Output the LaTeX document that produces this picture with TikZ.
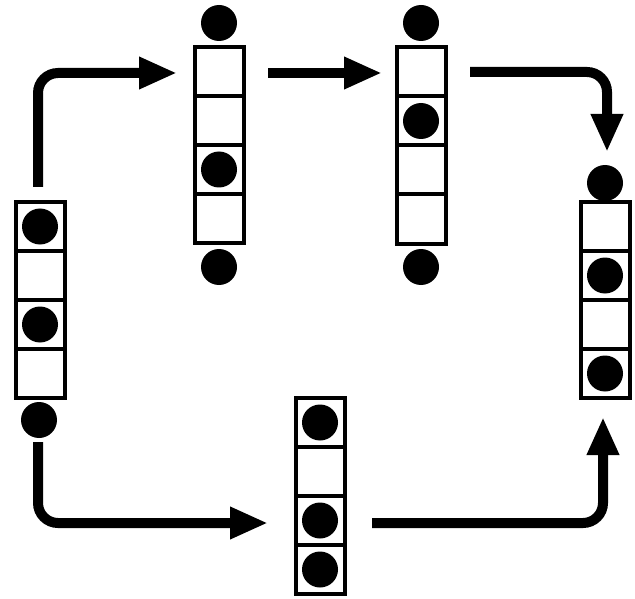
\documentclass[tikz,border=0pt]{standalone}
\usetikzlibrary{arrows.meta}
\begin{document}
\begin{tikzpicture}[x=1pt,y=1pt,
  cell/.style={draw=black,line width=4pt,fill=white,minimum width=49pt,minimum height=49pt,inner sep=0pt},
  ball/.style={circle,fill=black,minimum size=36pt,inner sep=0pt},
  flow/.style={line width=10pt,rounded corners=20pt,-{Triangle[length=38pt,width=30pt]}}]
\useasboundingbox (0,0) rectangle (635,-599);
% column 1 (left)
\foreach \i in {0,...,3}{\node[cell] (a\i) at (40,-226.5-49*\i) {};}
\node[ball] (a0b) at (a0) {};
\node[ball] (a2b) at (a2) {};
\node[ball] (aout) at (39,-420) {};
% column 2
\foreach \i in {0,...,3}{\node[cell] (b\i) at (219,-71.5-49*\i) {};}
\node[ball] (bin) at (219,-23) {};
\node[ball] (b2b) at (b2) {};
\node[ball] (bout) at (219,-267) {};
% column 3
\foreach \i in {0,...,3}{\node[cell] (c\i) at (421,-72-49*\i) {};}
\node[ball] (cin) at (421,-23) {};
\node[ball] (c1b) at (c1) {};
\node[ball] (cout) at (421,-267) {};
% column 4 (right)
\foreach \i in {0,...,3}{\node[cell] (d\i) at (605,-226.5-49*\i) {};}
\node[ball] (din) at (605,-183) {};
\node[ball] (d1b) at (d1) {};
\node[ball] (d3b) at (d3) {};
% column 5 (bottom)
\foreach \i in {0,...,3}{\node[cell] (e\i) at (320,-422.5-49*\i) {};}
\node[ball] (e0b) at (e0) {};
\node[ball] (e2b) at (e2) {};
\node[ball] (e3b) at (e3) {};
% arrow end points
\coordinate (s1) at (38,-187);  \coordinate (t1) at (177,-73);
\coordinate (s2) at (268,-73);  \coordinate (t2) at (382,-73);
\coordinate (s3) at (470,-72);  \coordinate (t3) at (607,-152);
\coordinate (s4) at (38,-442);  \coordinate (t4) at (268,-523);
\coordinate (s5) at (372,-523); \coordinate (t5) at (603,-417);
\draw[flow] (s1) |- (t1);
\draw[flow] (s2) -- (t2);
\draw[flow] (s3) -| (t3);
\draw[flow] (s4) |- (t4);
\draw[flow] (s5) -| (t5);
\end{tikzpicture}
\end{document}
